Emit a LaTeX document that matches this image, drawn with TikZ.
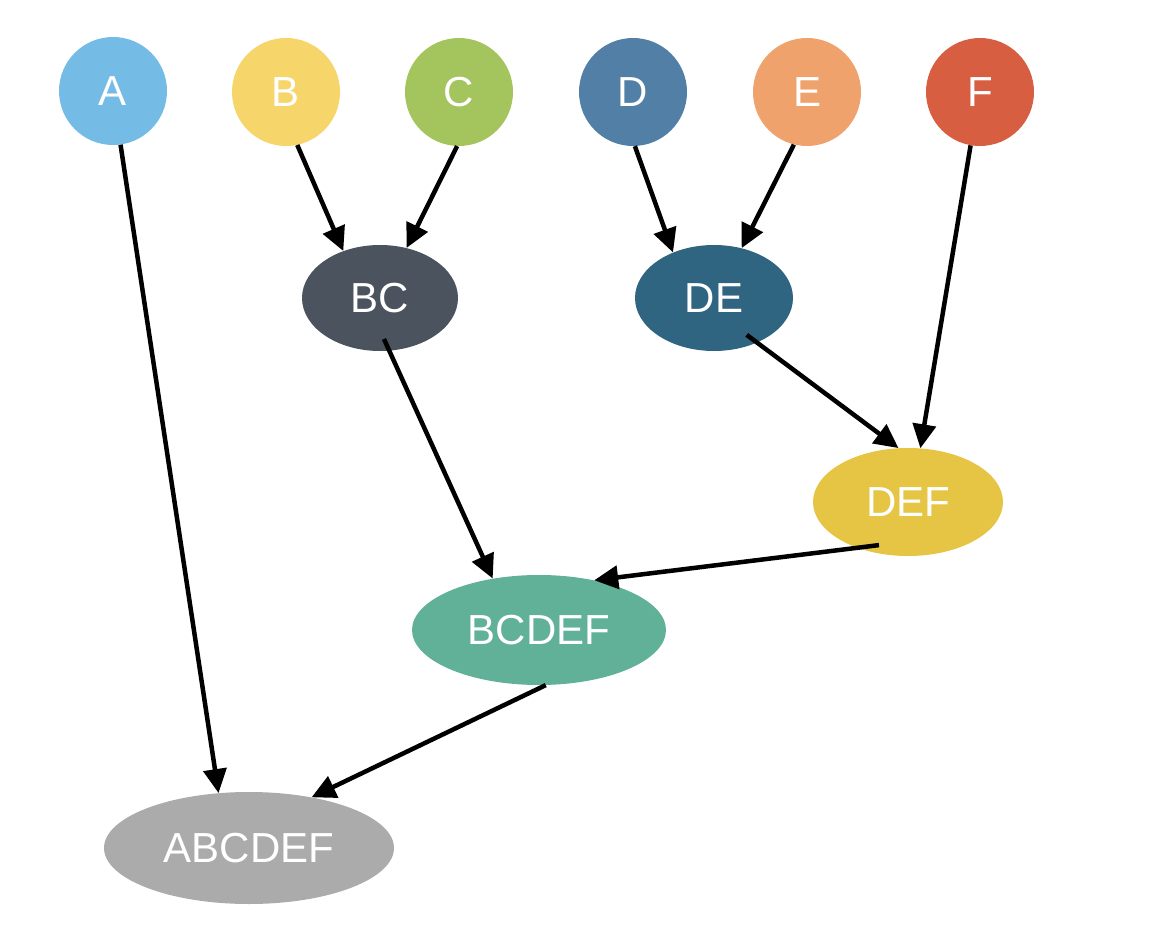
\documentclass[tikz,border=0pt]{standalone}
\usepackage{fontspec}
\setmainfont{Liberation Sans}
\usetikzlibrary{shapes.geometric,arrows.meta}
\definecolor{cA}{HTML}{74BCE6}
\definecolor{cB}{HTML}{F6D56B}
\definecolor{cC}{HTML}{A4C45E}
\definecolor{cD}{HTML}{517FA6}
\definecolor{cE}{HTML}{EFA26C}
\definecolor{cF}{HTML}{D75E41}
\definecolor{cBC}{HTML}{4B535E}
\definecolor{cDE}{HTML}{2F6580}
\definecolor{cDEF}{HTML}{E6C544}
\definecolor{cBCDEF}{HTML}{61B198}
\definecolor{cABCDEF}{HTML}{ABABAB}
\tikzset{
  leaf/.style={circle, minimum size=108pt, inner sep=0pt, text=white, font=\fontsize{42}{46}\selectfont},
  merged/.style={ellipse, inner sep=0pt, text=white, font=\fontsize{42}{46}\selectfont},
  conn/.style={line width=4.5pt, -{Triangle[length=24pt,width=23pt]}}
}
\begin{document}
\begin{tikzpicture}[x=1pt,y=-1pt]
\useasboundingbox (0,0) rectangle (1152,936);
\node[leaf, fill=cA] (A) at (113,91) {A};
\node[leaf, fill=cB] (B) at (286,92) {B};
\node[leaf, fill=cC] (C) at (459,92) {C};
\node[leaf, fill=cD] (D) at (633,92) {D};
\node[leaf, fill=cE] (E) at (807,92) {E};
\node[leaf, fill=cF] (F) at (980,92) {F};
\node[merged, fill=cBC, minimum width=156pt, minimum height=106pt] (BC) at (380,298) {BC};
\node[merged, fill=cDE, minimum width=158pt, minimum height=106pt] (DE) at (714,298) {DE};
\node[merged, fill=cDEF, minimum width=190pt, minimum height=108pt] (DEF) at (908,502) {DEF};
\node[merged, fill=cBCDEF, minimum width=254pt, minimum height=110pt] (BCDEF) at (539,630) {BCDEF};
\node[merged, fill=cABCDEF, minimum width=290pt, minimum height=112pt] (ABCDEF) at (249,848) {ABCDEF};
\draw[conn] (A.-82.6) -- (ABCDEF.119.6);
\draw[conn] (B.-78) -- (BC.128.4);
\draw[conn] (C.-92) -- (BC.62.5);
\draw[conn] (D.-88) -- (DE.132.5);
\draw[conn] (E.-104) -- (DE.61.6);
\draw[conn] (F.-100) -- (DEF.77.5);
\draw[conn, shorten <=-13pt] (BC.-80) -- (BCDEF.132.9);
\draw[conn, shorten <=-13pt] (DE.-46.4) -- (DEF.100);
\draw[conn, shorten <=-22pt] (DEF.-138) -- (BCDEF.42.3);
\draw[conn] (BCDEF.-83.7) -- (ABCDEF.39);
\end{tikzpicture}
\end{document}
